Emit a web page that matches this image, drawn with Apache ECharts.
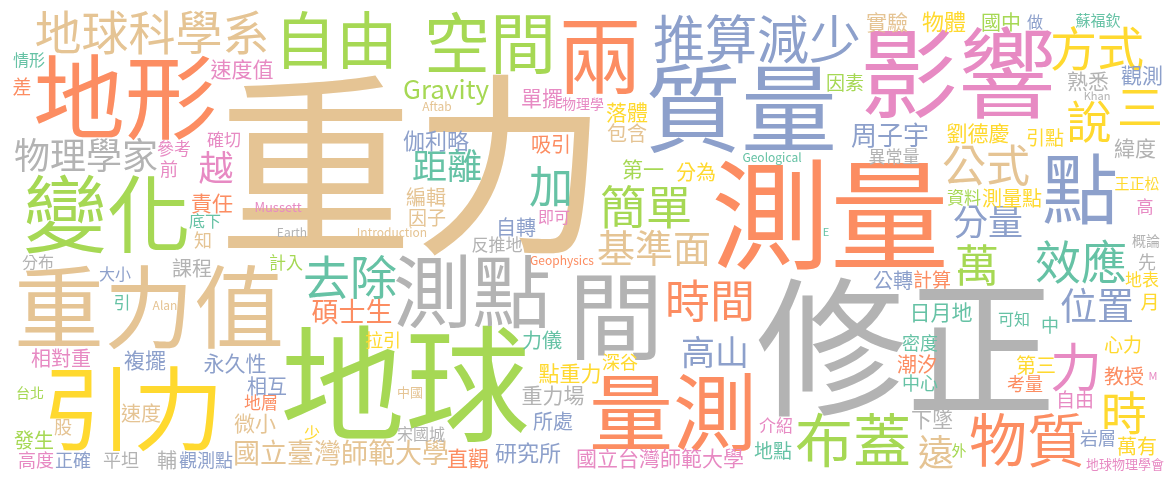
<!DOCTYPE html>
<html>
<head>
<meta charset="utf-8">
<script src="https://cdn.jsdelivr.net/npm/echarts@6/dist/echarts.min.js"></script>
<style>
  html, body { margin: 0; padding: 0; background: #fff; }
  #main { width: 1175px; height: 482px; }
</style>
</head>
<body>
<div id="main"></div>
<script>
// 詞雲 資料：詞、權重（字級）
var words = [
  '重力', '修正', '測量', '質量', '影響', '地球', '地形', '變化', '重力值', '引力',
  '間', '測點', '量測', '點', '兩', '自由', '空間', '推算減少', '地球科學系', '物理學家',
  '方式', '公式', '說', '三', '效應', '萬', '位置', '分量', '時間', '基準面',
  '簡單', '加', '去除', '距離', '越', '力', '時', '布蓋', '物質', '遠',
  '高山', 'Gravity', '周子宇', '碩士生', '國立臺灣師範大學', '國立台灣師範大學', '研究所', '直觀',
  '情形', '速度值', '差', '確切', '參考', '前', 'Aftab', '單擺', '物理學', '落體',
  '包含', '吸引', '伽利略', 'Geological', '分為', '第一', '實驗', '物體', '國中', '做',
  '蘇福欽', '因素', '熟悉', '觀測', 'Khan', '劉德慶', '引點', '緯度', '異常量', '王正松',
  '資料', '測量點', '高', 'E', '概論', '先', '公轉', '計算', '地表', '月',
  '日月地', '可知', '中', '密度', '潮汐', '中心', '心力', '第三', '教授', 'M',
  '考量', '自由', '下墜', '介紹', '外', '岩層', '萬有', '地球物理學會', '地點', '力儀',
  '拉引', '深谷', '點重力', '重力場', '中國', '所處', '宋國城', '相對重', '複擺', '永久性',
  '台北', '相互', '地層', '速度', '股', '微小', '少', '發生', '高度', '正確',
  '平坦', '輔', '觀測點', '責任', 'Mussett', '底下', '知', 'Earth', 'Introduction', '分布',
  '課程', '大小', '計入', '引', 'Alan', '編輯', '因子', '即可', '自轉', '反推地',
  'Geophysics'
];
var weights = [
  195, 150, 119, 96, 98, 125, 92, 84, 90, 91,
  95, 79, 84, 76, 84, 62, 66, 52, 47, 36,
  47, 44, 45, 46, 46, 44, 37, 35, 45, 38,
  46, 44, 47, 35, 35, 52, 46, 58, 58, 36,
  34, 26, 26, 27, 27, 21, 22, 21,
  16, 21, 19, 17, 17, 18, 12, 21, 14, 21,
  20, 20, 22, 12, 20, 21, 21, 22, 20, 16,
  15, 19, 21, 21, 11, 21, 19, 21, 17, 15,
  17, 20, 17, 11, 14, 18, 20, 19, 17, 19,
  21, 16, 18, 18, 20, 18, 19, 20, 20, 11,
  18, 19, 21, 17, 15, 18, 20, 13, 19, 20,
  18, 18, 21, 21, 13, 20, 16, 20, 21, 21,
  14, 20, 17, 20, 18, 21, 16, 20, 18, 18,
  18, 20, 18, 21, 13, 16, 18, 12, 12, 16,
  20, 16, 17, 17, 12, 20, 19, 16, 20, 17,
  12
];

// 版面：詞的中心位置（像素座標）與顏色索引
var cloudX = [
  413, 906, 830, 741, 958, 405, 125, 107, 149, 133,
  616, 472, 673, 1080, 600, 336, 490, 757, 152, 86,
  1097, 986, 1089, 1140, 1081, 977, 1097, 988, 710, 654,
  646, 551, 350, 447, 216, 1076, 1124, 853, 1027, 936,
  715, 446, 890, 352, 341, 660, 528, 468,
  29, 242, 22, 224, 174, 169, 437, 542, 583, 627,
  627, 551, 436, 772, 696, 643, 887, 944, 1001, 1035,
  1098, 845, 1088, 1142, 1097, 978, 1045, 1135, 894, 1137,
  964, 1012, 1145, 826, 1146, 1147, 893, 932, 1142, 1150,
  941, 1014, 1050, 920, 917, 920, 1123, 1036, 1124, 1153,
  1025, 1075, 932, 776, 959, 1098, 1137, 1125, 773, 542,
  383, 620, 570, 553, 410, 553, 421, 61, 145, 235,
  30, 267, 261, 141, 63, 255, 312, 34, 36, 73,
  121, 167, 206, 212, 278, 205, 203, 292, 392, 38,
  192, 115, 286, 122, 165, 426, 427, 554, 516, 497,
  562
];
var cloudY = [
  165, 347, 215, 108, 73, 383, 97, 214, 307, 408,
  316, 292, 412, 189, 55, 40, 43, 39, 32, 155,
  48, 165, 122, 107, 262, 265, 306, 222, 301, 248,
  207, 186, 277, 166, 168, 367, 413, 440, 440, 452,
  352, 89, 135, 312, 453, 458, 453, 458,
  60, 69, 87, 140, 149, 169, 106, 98, 104, 112,
  133, 144, 141, 157, 172, 169, 22, 22, 22, 22,
  20, 83, 81, 75, 96, 133, 138, 148, 157, 183,
  198, 198, 207, 232, 241, 262, 280, 280, 280, 302,
  312, 319, 325, 343, 364, 383, 345, 365, 376, 376,
  384, 400, 419, 426, 450, 438, 446, 464, 451, 340,
  340, 362, 373, 395, 392, 421, 434, 358, 360, 363,
  393, 386, 403, 413, 427, 423, 433, 440, 460, 460,
  460, 460, 460, 203, 207, 221, 240, 232, 232, 262,
  268, 274, 263, 303, 305, 197, 218, 217, 227, 245,
  260
];
// 0 青 1 橘 2 藍 3 粉 4 綠 5 黃 6 棕 7 灰
var colorIdx = [
  6, 7, 1, 2, 3, 4, 1, 4, 6, 5,
  7, 7, 1, 2, 1, 4, 4, 2, 6, 7,
  5, 6, 5, 5, 0, 4, 2, 2, 1, 6,
  4, 0, 0, 0, 3, 3, 5, 4, 1, 6,
  2, 4, 2, 1, 6, 3, 2, 1,
  0, 3, 1, 3, 3, 3, 6, 3, 3, 5,
  6, 1, 2, 0, 5, 4, 6, 5, 4, 2,
  0, 4, 7, 2, 7, 5, 5, 7, 7, 5,
  4, 5, 3, 0, 7, 7, 2, 1, 5, 5,
  0, 0, 0, 0, 1, 0, 5, 5, 1, 3,
  1, 3, 7, 3, 4, 2, 5, 3, 0, 0,
  5, 5, 5, 7, 6, 2, 7, 3, 2, 2,
  4, 2, 1, 6, 6, 6, 5, 4, 3, 2,
  7, 7, 2, 1, 3, 0, 6, 7, 6, 7,
  7, 2, 4, 0, 6, 6, 6, 3, 2, 7,
  1
];
var palette = ['#66C2A5', '#FC8D62', '#8DA0CB', '#E78AC3', '#A6D854', '#FFD92F', '#E5C494', '#B3B3B3'];

var chart = echarts.init(document.getElementById('main'), null, { renderer: 'canvas' });

// 資料列：x, y, 權重, 顏色索引, 詞索引
var seriesData = words.map(function (w, i) {
  return [cloudX[i], cloudY[i], weights[i], colorIdx[i], i];
});

function renderWord(params, api) {
  var pt = api.coord([api.value(0), api.value(1)]);
  var idx = api.value(4);
  return {
    type: 'text',
    x: pt[0],
    y: pt[1],
    style: {
      text: words[idx],
      fontSize: api.value(2),
      fontWeight: 'normal',
      fontFamily: '"Noto Sans CJK TC", "Noto Sans", sans-serif',
      fill: palette[api.value(3)],
      align: 'center',
      verticalAlign: 'middle'
    }
  };
}

var option = {
  backgroundColor: '#ffffff',
  animation: false,
  grid: { left: 0, right: 0, top: 0, bottom: 0 },
  xAxis: { type: 'value', min: 0, max: 1175, show: false },
  yAxis: { type: 'value', min: 0, max: 482, inverse: true, show: false },
  series: [{
    type: 'custom',
    silent: true,
    renderItem: renderWord,
    data: seriesData
  }]
};

chart.setOption(option);
</script>
</body>
</html>
